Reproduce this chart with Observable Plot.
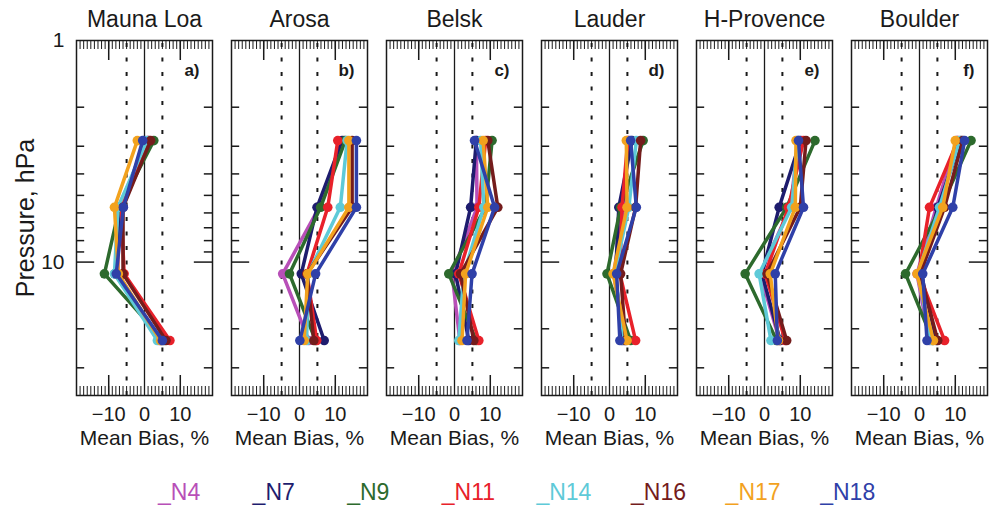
<!DOCTYPE html>
<html><head><meta charset="utf-8">
<script src="https://cdn.jsdelivr.net/npm/d3@7"></script>
<script src="https://cdn.jsdelivr.net/npm/@observablehq/plot@0.6"></script>
<style>
body{margin:0;background:#fff;overflow:hidden;font-family:"Liberation Sans",Arial,sans-serif;}
#legend{position:relative;height:50px;width:990px;}
#legend span{position:absolute;top:21px;font-size:23px;line-height:1;white-space:nowrap;}
</style></head><body><div id="chart"></div><div id="legend"></div>
<script>
// ---- data ----
const stations = ["Mauna Loa", "Arosa", "Belsk", "Lauder", "H-Provence", "Boulder"];
const panelLabels = ["a)", "b)", "c)", "d)", "e)", "f)"];
const sats = ["N4", "N7", "N9", "N11", "N14", "N16", "N17", "N18"];
const satColors = ["#b84fb8", "#1e1c6e", "#2d6a2d", "#e8212a", "#5ecad8", "#741c1c", "#f2a21e", "#2f40a8"];
const pressures = [2.83, 5.66, 11.3, 22.6]; // hPa, layer mid-points
// bias (%) per satellite (rows in sats order), per pressure level (columns)
const biasMaunaLoa = [
  [0.9, -7.3, -7.4, 4.2], [0.0, -6.3, -8.3, 4.7], [2.6, -7.0, -11.2, 5.4], [1.2, -6.5, -5.7, 7.1],
  [0.7, -7.4, -8.4, 3.6], [1.7, -6.0, -6.0, 6.0], [-2.0, -8.4, -7.3, 4.5], [-0.5, -5.9, -7.9, 5.0]];
const biasArosa = [
  [12.4, 5.5, -4.7, 2.6], [11.9, 4.9, 0.5, 6.9], [12.8, 5.9, -2.8, 4.5], [10.7, 7.9, 2.1, 4.8],
  [13.3, 11.4, 2.4, 2.0], [14.7, 14.7, 2.1, 4.0], [13.8, 13.8, 2.3, 1.3], [15.9, 15.9, 4.5, 0.1]];
const biasBelsk = [
  [6.1, 6.3, -0.7, 1.5], [6.1, 4.5, 0.3, 4.0], [10.5, 8.7, -1.6, 6.1], [8.7, 6.8, 1.2, 6.8],
  [7.3, 8.2, 2.6, 1.2], [9.3, 12.1, 1.7, 5.4], [8.0, 9.3, 3.1, 2.1], [5.6, 11.2, 4.9, 3.5]];
const biasLauder = [
  [5.4, 4.0, 1.2, 4.0], [6.3, 2.6, 1.7, 3.5], [9.4, 3.1, -0.7, 5.9], [5.1, 3.5, 2.9, 7.3],
  [7.5, 5.4, 1.4, 4.2], [8.7, 7.3, 3.1, 4.5], [4.7, 4.9, 1.0, 4.9], [5.9, 7.5, 2.0, 2.9]];
const biasHProvence = [
  [9.5, 7.2, -1.2, 4.2], [10.1, 4.1, -0.7, 4.4], [14.1, 6.2, -5.4, 3.4], [10.9, 6.7, 0.2, 5.8],
  [9.2, 7.6, -1.5, 1.8], [11.6, 10.0, 0.7, 6.2], [8.8, 8.6, 1.6, 3.9], [9.5, 10.9, 3.0, 3.6]];
const biasBoulder = [
  [10.4, 4.7, -0.7, 2.8], [11.6, 5.1, 0.5, 4.7], [14.4, 6.0, -3.9, 3.7], [10.7, 2.8, -0.2, 7.0],
  [11.2, 5.6, -0.5, 3.3], [12.1, 7.0, 0.2, 5.1], [10.0, 6.5, -0.7, 3.9], [12.6, 9.3, 0.9, 2.1]];
const stationBias = [biasMaunaLoa, biasArosa, biasBelsk, biasLauder, biasHProvence, biasBoulder];

const xLabelTicks = [-10, 0, 10];
const xMajorTicks = [-10, 10];
const xMinorTicks = d3.range(-19, 20);
const xDotted = [-5, 5];
const yLabelTicks = [1, 10];
const yMajorTicks = [10];
const yMinorTicks = [2, 3, 4, 5, 6, 7, 8, 9, 20, 30];

// ---- layout ----
const W = 990, H = 460, mL = 75, mR = 3, mT = 40, mB = 65;
const padInner = 0.125;
const step = (W - mL - mR) / (stations.length - padInner);
const bw = step * (1 - padInner);
const frameH = H - mT - mB;
const ink = "#1a1a1a";

const rows = [];
stationBias.forEach((tbl, i) => tbl.forEach((vals, j) => vals.forEach((v, k) =>
  rows.push({station: stations[i], sat: sats[j], p: pressures[k], bias: v}))));

const seriesMarks = sats.flatMap(s => {
  const d = rows.filter(r => r.sat === s);
  return [
    Plot.line(d, {x: "bias", y: "p", z: "station", fx: "station", stroke: "sat", strokeWidth: 3.5, strokeLinejoin: "round"}),
    Plot.dot(d, {x: "bias", y: "p", fx: "station", fill: "sat", r: 4.8})
  ];
});

const chart = Plot.plot({
  width: W, height: H, marginLeft: mL, marginRight: mR, marginTop: mT, marginBottom: mB,
  style: {fontFamily: '"Liberation Sans", Arial, sans-serif', color: ink, background: "#fff", overflow: "visible"},
  fx: {domain: stations, paddingInner: padInner, paddingOuter: 0},
  x: {domain: [-19, 19]},
  y: {type: "log", domain: [1, 40], reverse: true},
  color: {domain: sats, range: satColors},
  marks: [
    Plot.axisFx({anchor: "top", label: null, tickSize: 0, tickPadding: 14, fontSize: 23}),
    Plot.axisX({anchor: "bottom", ticks: xLabelTicks, tickSize: 0, tickPadding: 11, fontSize: 20, label: null}),
    Plot.axisY({anchor: "left", ticks: yLabelTicks, tickFormat: d => String(d), tickSize: 0, tickPadding: 12, fontSize: 21, label: null}),
    Plot.axisY({anchor: "left", ticks: [], label: "Pressure, hPa", labelAnchor: "center", labelOffset: 60, labelArrow: "none", fontSize: 25}),
    Plot.frame({stroke: ink, strokeWidth: 1.5}),
    Plot.tickX(xMinorTicks, {x: d => d, insetBottom: frameH - 9, stroke: ink, strokeWidth: 1}),
    Plot.tickX(xMinorTicks, {x: d => d, insetTop: frameH - 9, stroke: ink, strokeWidth: 1}),
    Plot.tickX(xMajorTicks, {x: d => d, insetBottom: frameH - 20, stroke: ink, strokeWidth: 1.5}),
    Plot.tickX(xMajorTicks, {x: d => d, insetTop: frameH - 20, stroke: ink, strokeWidth: 1.5}),
    Plot.tickY(yMinorTicks, {y: d => d, insetRight: bw - 8, stroke: ink, strokeWidth: 1.5}),
    Plot.tickY(yMinorTicks, {y: d => d, insetLeft: bw - 8, stroke: ink, strokeWidth: 1.5}),
    Plot.tickY(yMajorTicks, {y: d => d, insetRight: bw - 18, stroke: ink, strokeWidth: 1.5}),
    Plot.tickY(yMajorTicks, {y: d => d, insetLeft: bw - 18, stroke: ink, strokeWidth: 1.5}),
    Plot.ruleX([0], {stroke: ink, strokeWidth: 1.3}),
    Plot.ruleX(xDotted, {stroke: ink, strokeWidth: 2, strokeDasharray: "4,10.5", strokeDashoffset: -3}),
    ...seriesMarks,
    Plot.text(panelLabels, {fx: (d, i) => stations[i], text: d => d, frameAnchor: "top-right", dx: -13, dy: 30, lineAnchor: "middle", fontWeight: "bold", fontSize: 17, fill: ink}),
    Plot.text(["Mean Bias, %"], {text: d => d, frameAnchor: "bottom", dy: 43, lineAnchor: "middle", fontSize: 21, fill: ink})
  ]
});
document.getElementById("chart").appendChild(chart);

const legend = document.getElementById("legend");
sats.forEach((s, i) => {
  const sp = document.createElement("span");
  sp.textContent = "_" + s;
  sp.style.color = satColors[i];
  sp.style.left = (158 + i * 94.6) + "px";
  legend.appendChild(sp);
});
</script></body></html>
